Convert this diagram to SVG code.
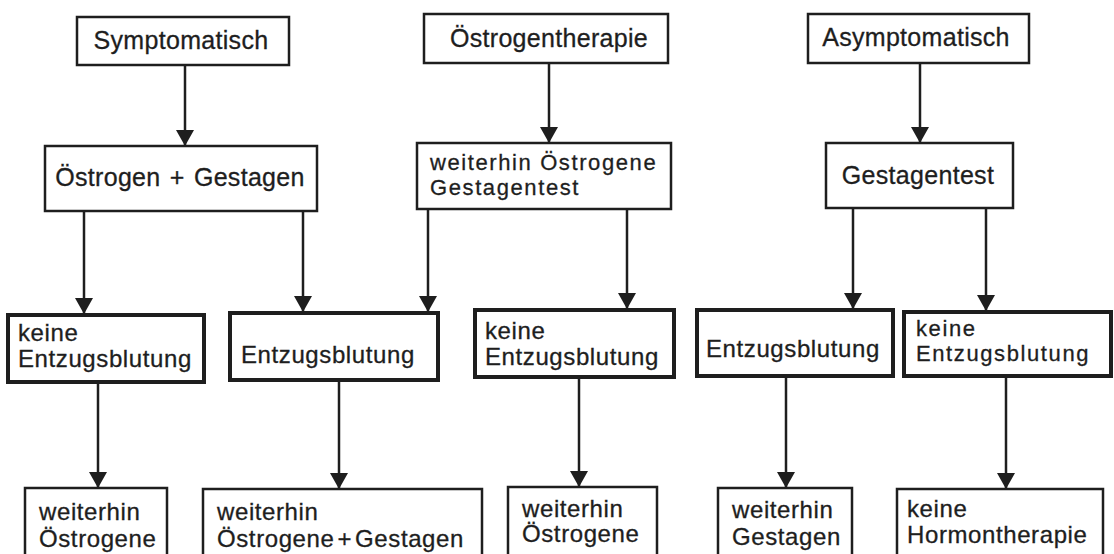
<svg xmlns="http://www.w3.org/2000/svg" width="1114" height="554" viewBox="0 0 1114 554">
<defs>
<style>
.box{fill:#fff;stroke:#1e1e1e;stroke-width:2.5}
.thick{stroke-width:4}
.t{font-family:"Liberation Sans",Arial,sans-serif;font-size:24px;letter-spacing:0.6px;fill:#1e1e1e;stroke:#1e1e1e;stroke-width:0.3}
.top{font-size:25px;letter-spacing:0.3px}
.sm{font-size:22px;letter-spacing:1.6px}
.c{text-anchor:middle}
.edge{stroke:#1e1e1e;stroke-width:2.5;fill:none;marker-end:url(#ah)}
</style>
<marker id="ah" markerUnits="userSpaceOnUse" markerWidth="16" markerHeight="18" viewBox="0 0 16 18" refX="16" refY="9" orient="auto">
<path d="M0,0 L16,9 L0,18 z" fill="#1e1e1e"/>
</marker>
</defs>
<rect width="1114" height="554" fill="#fff"/>
<g id="connectors">
<line class="edge" x1="185" y1="65" x2="185" y2="146"/>
<line class="edge" x1="549" y1="63" x2="549" y2="143"/>
<line class="edge" x1="920" y1="63" x2="920" y2="143"/>
<line class="edge" x1="84" y1="211" x2="84" y2="314"/>
<line class="edge" x1="303" y1="211" x2="303" y2="312"/>
<line class="edge" x1="428" y1="209" x2="428" y2="312"/>
<line class="edge" x1="627" y1="209" x2="627" y2="309"/>
<line class="edge" x1="853" y1="208" x2="853" y2="309"/>
<line class="edge" x1="986" y1="208" x2="986" y2="311"/>
<line class="edge" x1="98" y1="382" x2="98" y2="488"/>
<line class="edge" x1="339" y1="380" x2="339" y2="489"/>
<line class="edge" x1="579" y1="377" x2="579" y2="487"/>
<line class="edge" x1="786" y1="376" x2="786" y2="488"/>
<line class="edge" x1="1006" y1="376" x2="1006" y2="489"/>
</g>
<g id="symptomatisch"><rect class="box" x="77" y="17" width="212" height="48"/><text class="t top c" x="181" y="49">Symptomatisch</text></g>
<g id="oestrogentherapie"><rect class="box" x="424" y="14" width="244" height="49"/><text class="t top c" x="549" y="47">Östrogentherapie</text></g>
<g id="asymptomatisch"><rect class="box" x="808" y="14" width="221" height="49"/><text class="t top c" x="916" y="46">Asymptomatisch</text></g>
<g id="oestrogen-gestagen"><rect class="box" x="45" y="146" width="272" height="65"/><text class="t top c" x="180" y="186" word-spacing="2">Östrogen + Gestagen</text></g>
<g id="weiterhin-gestagentest"><rect class="box" x="417" y="143" width="254" height="66"/><text class="t sm" x="430" y="170">weiterhin Östrogene</text><text class="t sm" x="430" y="195">Gestagentest</text></g>
<g id="gestagentest"><rect class="box" x="826" y="143" width="187" height="65"/><text class="t top c" x="918" y="184">Gestagentest</text></g>
<g id="keine-entzug-1"><rect class="box thick" x="8" y="315" width="196" height="67"/><text class="t" x="18" y="341">keine</text><text class="t" x="18" y="367">Entzugsblutung</text></g>
<g id="entzug-1"><rect class="box thick" x="230" y="313" width="208" height="67"/><text class="t" x="241" y="363">Entzugsblutung</text></g>
<g id="keine-entzug-2"><rect class="box thick" x="475" y="310" width="199" height="67"/><text class="t" x="485" y="339">keine</text><text class="t" x="485" y="365">Entzugsblutung</text></g>
<g id="entzug-2"><rect class="box thick" x="697" y="310" width="196" height="66"/><text class="t" x="706" y="357">Entzugsblutung</text></g>
<g id="keine-entzug-3"><rect class="box thick" x="904" y="312" width="207" height="64"/><text class="t sm" x="916" y="336">keine</text><text class="t sm" x="916" y="361">Entzugsblutung</text></g>
<g id="weiterhin-oestrogene-1"><rect class="box" x="25" y="488" width="142" height="80"/><text class="t" x="39" y="520">weiterhin</text><text class="t" x="39" y="547">Östrogene</text></g>
<g id="weiterhin-oe-ge"><rect class="box" x="203" y="489" width="279" height="80"/><text class="t" x="217" y="520">weiterhin</text><text class="t" x="217" y="547">Östrogene<tspan dx="3">+</tspan><tspan dx="3">Gestagen</tspan></text></g>
<g id="weiterhin-oestrogene-2"><rect class="box" x="508" y="487" width="149" height="80"/><text class="t" x="522" y="517">weiterhin</text><text class="t" x="522" y="542">Östrogene</text></g>
<g id="weiterhin-gestagen"><rect class="box" x="718" y="488" width="134" height="80"/><text class="t" x="732" y="518">weiterhin</text><text class="t" x="732" y="545">Gestagen</text></g>
<g id="keine-hormontherapie"><rect class="box" x="897" y="489" width="206" height="80"/><text class="t" x="907" y="517">keine</text><text class="t" x="907" y="543">Hormontherapie</text></g>
</svg>
